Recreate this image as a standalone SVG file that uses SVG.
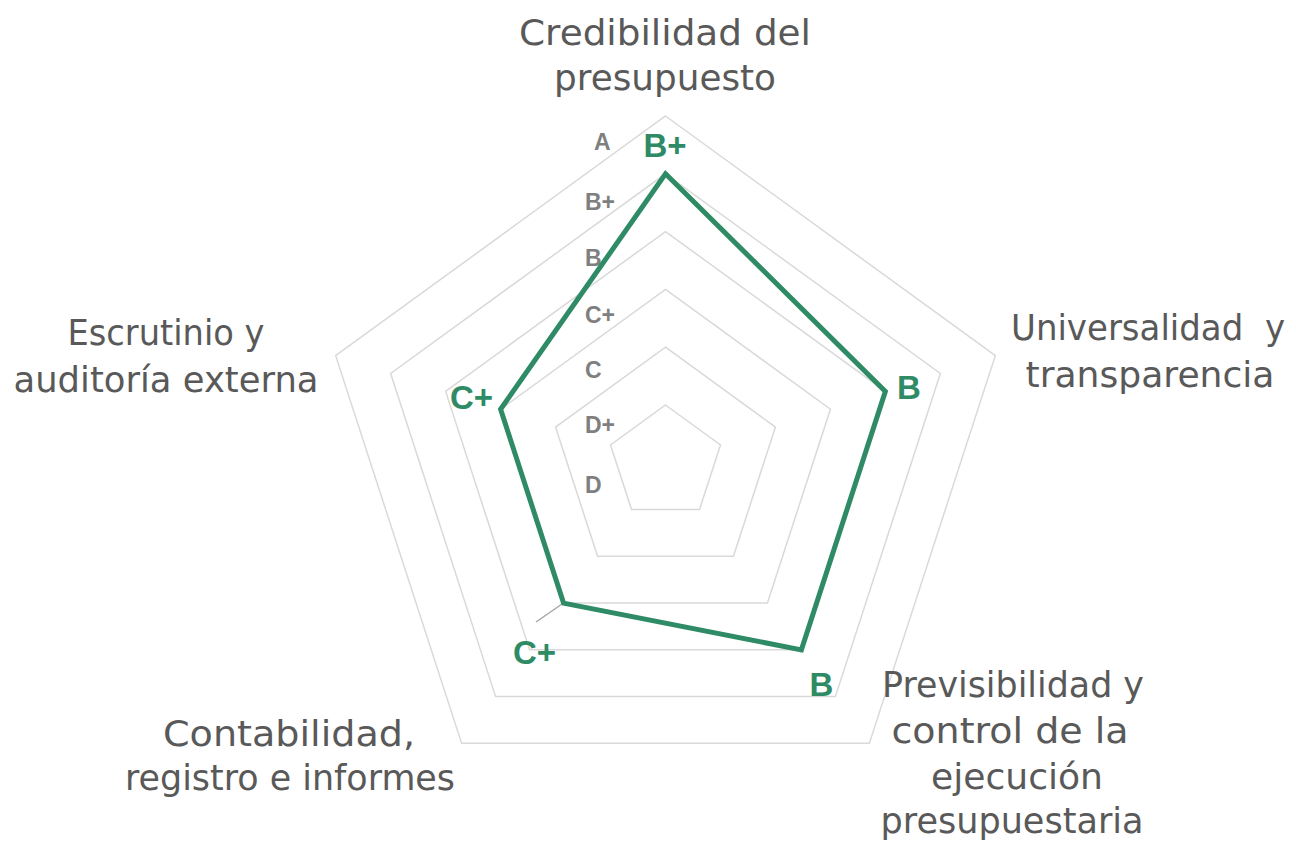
<svg xmlns="http://www.w3.org/2000/svg" width="1296" height="842" viewBox="0 0 1296 842">
<style>
.grid{fill:none;stroke:#d9d9d9;stroke-width:1.5}
.series{fill:none;stroke:#2e8b65;stroke-width:5;stroke-linejoin:miter}
.axis{font-family:"DejaVu Sans","Liberation Sans",sans-serif;font-size:36px;fill:#595959;text-anchor:middle;white-space:pre}
.lvl{font-family:"Liberation Sans",Arial,sans-serif;font-size:23px;font-weight:bold;fill:#7f7f7f}
.val{font-family:"Liberation Sans",Arial,sans-serif;font-size:33px;font-weight:bold;fill:#2e8b65;text-anchor:middle}
.leader{stroke:#a6a6a6;stroke-width:1.5;fill:none}
</style>
<rect width="1296" height="842" fill="#ffffff"/>
<g id="grid">
<polygon class="grid" points="665.5,405 720.5,444.94 699.47,509.56 631.53,509.56 610.53,444.94"/>
<polygon class="grid" points="665.5,347.2 775.44,427.08 733.45,556.32 597.55,556.32 555.56,427.08"/>
<polygon class="grid" points="665.5,289.4 830.41,409.22 767.42,603.08 563.58,603.08 500.59,409.22"/>
<polygon class="grid" points="665.5,231.6 885.38,391.36 801.4,649.84 529.6,649.84 445.62,391.36"/>
<polygon class="grid" points="665.5,173.8 940.36,373.49 835.37,696.61 495.63,696.61 390.64,373.49"/>
<polygon class="grid" points="665.5,116 995.33,355.63 869.35,743.37 461.65,743.37 335.67,355.63"/>
</g>
<g id="levels">
<text class="lvl" x="594" y="150">A</text>
<text class="lvl" x="585" y="210">B+</text>
<text class="lvl" x="585" y="266">B</text>
<text class="lvl" x="585" y="323">C+</text>
<text class="lvl" x="585" y="378">C</text>
<text class="lvl" x="585" y="433">D+</text>
<text class="lvl" x="585" y="493">D</text>
</g>
<g id="connectors">
<line class="leader" x1="536" y1="622" x2="562" y2="604"/>
</g>
<g id="series">
<polygon class="series" points="665.5,173.8 885.38,391.36 801.4,649.84 563.58,603.08 500.59,409.22"/>
</g>
<g id="axis-credibilidad">
<text class="axis" x="665" y="45" textLength="292" lengthAdjust="spacingAndGlyphs">Credibilidad del</text>
<text class="axis" x="665" y="90" textLength="222" lengthAdjust="spacingAndGlyphs">presupuesto</text>
<text class="val" x="665" y="157">B+</text>
</g>
<g id="axis-universalidad">
<text class="axis" x="1285" y="340" style="text-anchor:end" xml:space="preserve" textLength="274" lengthAdjust="spacingAndGlyphs">Universalidad  y</text>
<text class="axis" x="1150" y="387" textLength="249" lengthAdjust="spacingAndGlyphs">transparencia</text>
<text class="val" x="909" y="399">B</text>
</g>
<g id="axis-previsibilidad">
<text class="axis" x="1013" y="697" textLength="262" lengthAdjust="spacingAndGlyphs">Previsibilidad y</text>
<text class="axis" x="1010" y="743" textLength="237" lengthAdjust="spacingAndGlyphs">control de la</text>
<text class="axis" x="1017" y="789" textLength="172" lengthAdjust="spacingAndGlyphs">ejecución</text>
<text class="axis" x="1012" y="833" textLength="263" lengthAdjust="spacingAndGlyphs">presupuestaria</text>
<text class="val" x="821.5" y="696">B</text>
</g>
<g id="axis-contabilidad">
<text class="axis" x="289" y="746" textLength="252" lengthAdjust="spacingAndGlyphs">Contabilidad,</text>
<text class="axis" x="290" y="790" textLength="330" lengthAdjust="spacingAndGlyphs">registro e informes</text>
<text class="val" x="534.5" y="664">C+</text>
</g>
<g id="axis-escrutinio">
<text class="axis" x="166" y="345" textLength="197" lengthAdjust="spacingAndGlyphs">Escrutinio y</text>
<text class="axis" x="166" y="392" textLength="305" lengthAdjust="spacingAndGlyphs">auditoría externa</text>
<text class="val" x="471.5" y="409">C+</text>
</g>
</svg>
